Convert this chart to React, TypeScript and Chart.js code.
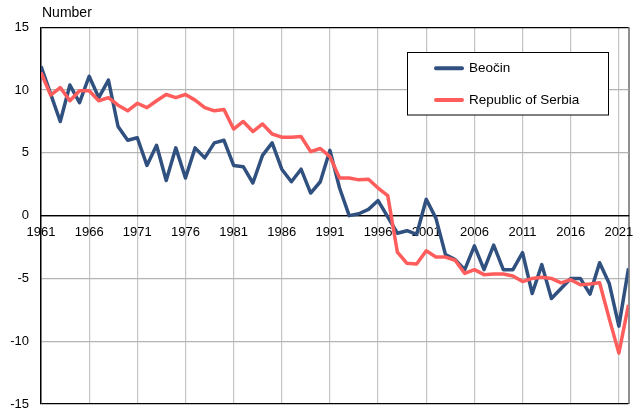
import React, { useEffect, useRef } from "react";
import { Chart, registerables } from "chart.js";

Chart.register(...registerables);

const years = [
  1961, 1962, 1963, 1964, 1965, 1966, 1967, 1968, 1969, 1970,
  1971, 1972, 1973, 1974, 1975, 1976, 1977, 1978, 1979, 1980,
  1981, 1982, 1983, 1984, 1985, 1986, 1987, 1988, 1989, 1990,
  1991, 1992, 1993, 1994, 1995, 1996, 1997, 1998, 1999, 2000,
  2001, 2002, 2003, 2004, 2005, 2006, 2007, 2008, 2009, 2010,
  2011, 2012, 2013, 2014, 2015, 2016, 2017, 2018, 2019, 2020,
  2021, 2022,
];

const beocin = [
  11.9, 9.7, 7.5, 10.4, 9.0, 11.1, 9.4, 10.8, 7.1, 6.0,
  6.2, 4.0, 5.6, 2.8, 5.4, 3.0, 5.4, 4.6, 5.8, 6.0,
  4.0, 3.9, 2.6, 4.8, 5.8, 3.7, 2.7, 3.7, 1.8, 2.7,
  5.2, 2.2, 0.0, 0.15, 0.5, 1.2, -0.1, -1.4, -1.2, -1.5,
  1.3, -0.2, -3.1, -3.5, -4.3, -2.4, -4.3, -2.35, -4.3, -4.3,
  -2.95, -6.2, -3.9, -6.6, -5.8, -5.0, -5.0, -6.25, -3.75, -5.4,
  -8.8, -4.2,
];

const serbia = [
  11.4, 9.6, 10.2, 9.15, 9.95, 9.95, 9.15, 9.4, 8.8, 8.35,
  8.95, 8.6, 9.15, 9.65, 9.4, 9.65, 9.2, 8.6, 8.35, 8.45,
  6.9, 7.5, 6.7, 7.3, 6.5, 6.25, 6.25, 6.3, 5.1, 5.35,
  4.7, 3.0, 3.0, 2.85, 2.9, 2.2, 1.6, -2.9, -3.8, -3.85,
  -2.8, -3.3, -3.3, -3.55, -4.6, -4.3, -4.7, -4.65, -4.65, -4.8,
  -5.25, -5.0, -4.9, -5.0, -5.35, -5.1, -5.5, -5.45, -5.35, -8.2,
  -10.95, -7.1,
];

const xTickYears = [1961, 1966, 1971, 1976, 1981, 1986, 1991, 1996, 2001, 2006, 2011, 2016, 2021, 2022];
const xMin = 1961;
const xMax = 2022;
const yMin = -15;
const yMax = 15;
const yStep = 5;

const seriesLabels = ["Beočin", "Republic of Serbia"];
const seriesColors = ["#30507f", "#ff5c5c"];
const yAxisTitle = "Number";

const FONT = '"Liberation Sans", Arial, Helvetica, sans-serif';

const overlayPlugin = {
  id: "overlay",
  afterDraw(chart: any) {
    const ctx = chart.ctx;
    ctx.save();
    ctx.fillStyle = "#000";
    ctx.font = `14px ${FONT}`;
    ctx.textBaseline = "middle";
    ctx.textAlign = "left";
    ctx.fillText(yAxisTitle, 42, 13);

    const bx = 407.5, by = 52.5, bw = 201, bh = 62.5;
    ctx.fillStyle = "#fff";
    ctx.fillRect(bx, by, bw, bh);
    ctx.strokeStyle = "#000";
    ctx.lineWidth = 1;
    ctx.strokeRect(bx, by, bw, bh);
    const rows = [68.3, 100];
    chart.data.datasets.forEach((ds: any, i: number) => {
      const y = rows[i];
      ctx.strokeStyle = ds.borderColor;
      ctx.lineWidth = 4;
      ctx.lineCap = "round";
      ctx.beginPath();
      ctx.moveTo(436, y);
      ctx.lineTo(462, y);
      ctx.stroke();
      ctx.fillStyle = "#000";
      ctx.font = `13.5px ${FONT}`;
      ctx.textBaseline = "middle";
      ctx.fillText(ds.label, 469, y);
    });
    ctx.restore();
  },
};

export default function App() {
  const ref = useRef<HTMLCanvasElement | null>(null);

  useEffect(() => {
    document.body.style.margin = "0";
    document.body.style.overflow = "hidden";
    document.documentElement.style.overflow = "hidden";
    if (!ref.current) return;
    Chart.defaults.font.family = FONT;
    const chart = new Chart(ref.current, {
      type: "line",
      data: {
        datasets: [
          {
            label: seriesLabels[0],
            data: years.map((yr, i) => ({ x: yr, y: beocin[i] })),
            borderColor: seriesColors[0],
            backgroundColor: seriesColors[0],
            borderWidth: 3.5,
            pointRadius: 0,
            tension: 0,
            borderJoinStyle: "round",
            order: 2,
          },
          {
            label: seriesLabels[1],
            data: years.map((yr, i) => ({ x: yr, y: serbia[i] })),
            borderColor: seriesColors[1],
            backgroundColor: seriesColors[1],
            borderWidth: 3.5,
            pointRadius: 0,
            tension: 0,
            borderJoinStyle: "round",
            order: 1,
          },
        ],
      },
      options: {
        animation: false,
        responsive: false,
        maintainAspectRatio: false,
        layout: { padding: { top: 27.3, right: 13.5, bottom: 16, left: 0 } },
        plugins: {
          legend: { display: false },
          tooltip: { enabled: false },
          title: { display: false },
        },
        scales: {
          x: {
            type: "linear",
            min: xMin,
            max: xMax,
            position: { y: 0 } as any,
            afterBuildTicks: (scale: any) => {
              scale.ticks = xTickYears.map((v) => ({ value: v }));
            },
            ticks: {
              autoSkip: false,
              maxRotation: 0,
              padding: 9,
              color: "#000",
              font: { size: 13, family: FONT },
              callback: (v: any) => (v === xMax ? "" : String(v)),
            },
            grid: {
              drawTicks: false,
              color: (c: any) => (c.tick && c.tick.value === xMax ? "#8f8f8f" : "#c4c4c4"),
              lineWidth: (c: any) => (c.tick && c.tick.value === xMax ? 2 : 1.2),
            },
            border: { display: true, color: "#000", width: 1.2 },
          },
          y: {
            type: "linear",
            min: yMin,
            max: yMax,
            afterFit: (scale: any) => {
              scale.width = 41;
              scale.paddingTop = 0;
              scale.paddingBottom = 0;
            },
            ticks: {
              stepSize: yStep,
              padding: 12,
              color: "#000",
              font: { size: 13, family: FONT },
            },
            grid: {
              drawTicks: false,
              color: (c: any) => {
                const v = c.tick ? c.tick.value : 0;
                return v === yMin || v === yMax || v === 0 ? "#000" : "#b4b4b4";
              },
              lineWidth: 1.2,
            },
            border: { display: true, color: "#000", width: 1.5 },
          },
        },
      },
      plugins: [overlayPlugin],
    });
    return () => chart.destroy();
  }, []);

  return (
    <div style={{ position: "relative", width: 642, height: 420 }}>
      <canvas ref={ref} width={642} height={420} style={{ display: "block", width: 642, height: 420 }} />
    </div>
  );
}
